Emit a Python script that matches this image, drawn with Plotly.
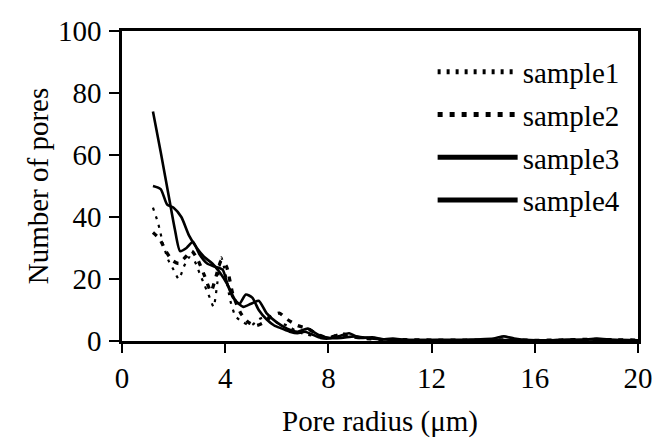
import plotly.graph_objects as go

# ---- data ----
s1_x = [1.2, 1.4, 1.6, 1.8, 2.0, 2.2, 2.4, 2.6, 2.8, 3.0, 3.2, 3.4, 3.55, 3.7, 3.85, 4.0, 4.2, 4.4, 4.7,
        5.0, 5.3, 5.6, 6.0, 6.4, 6.8, 7.2, 7.6, 8.0, 8.5, 9.0, 10, 11, 12, 13, 14, 15, 16, 17, 18, 19, 20]
s1_y = [43, 38, 31, 26, 23, 20, 24, 27, 26, 22, 18, 14, 11, 19, 27, 22, 13, 8, 6,
        5, 7, 8, 6, 5, 3, 2, 1.5, 1, 2.5, 1.5, 0.5, 0.3, 0.3, 0.2, 0.3, 0.2, 0.2, 0.2, 0.3, 0.2, 0.2]

s2_x = [1.2, 1.45, 1.7, 1.95, 2.2, 2.45, 2.7, 2.95, 3.2, 3.45, 3.65, 3.85, 4.05, 4.3, 4.6, 4.9, 5.2, 5.5,
        5.8, 6.1, 6.4, 6.8, 7.2, 7.6, 8.0, 8.4, 8.8, 9.5, 10, 11, 12, 13, 14, 15, 16, 17, 18, 19, 20]
s2_y = [35, 33, 29, 26, 25, 27, 29, 26, 21, 16, 21, 26, 24, 15, 9, 6, 5, 6,
        8, 9, 7, 5, 4, 2, 1, 2, 1.5, 0.8, 0.5, 0.4, 0.3, 0.3, 0.3, 0.4, 0.2, 0.3, 0.5, 0.4, 0.3]

s3_x = [1.2, 1.5, 1.85, 2.05, 2.25, 2.5, 2.75, 3.0, 3.3, 3.6, 3.9, 4.1, 4.3, 4.55, 4.8, 5.05, 5.3, 5.6,
        5.9, 6.2, 6.5, 6.8, 7.1, 7.4, 7.7, 8.0, 8.4, 8.8, 9.2, 9.7, 10.2, 10.8, 11.5, 12.2, 13, 13.8,
        14.4, 14.8, 15.2, 15.8, 16.5, 17.2, 17.8, 18.4, 19, 19.5, 20]
s3_y = [74, 61, 45, 36, 29, 30, 32, 28, 25, 24, 23, 18, 14, 12, 15, 14, 10, 7,
        5, 4, 3, 2.5, 3, 2, 1, 0.8, 1.5, 2.5, 1, 1.2, 0.5, 0.4, 0.3, 0.3, 0.2, 0.5,
        0.8, 1.5, 0.8, 0.3, 0.2, 0.4, 0.3, 0.8, 0.4, 0.3, 0.2]

s4_x = [1.2, 1.5, 1.75, 2.0, 2.3, 2.6, 2.9, 3.2, 3.5, 3.8, 4.1, 4.4, 4.7, 5.0, 5.3, 5.6, 6.0, 6.4, 6.8,
        7.2, 7.6, 8.0, 8.5, 9.0, 9.5, 10, 10.5, 11, 12, 13, 14, 15, 16, 17, 18, 19, 20]
s4_y = [50, 49, 44, 43, 40, 34, 30, 27, 25, 22, 18, 13, 11, 12, 13, 9, 6, 4, 3,
        4, 2, 1, 1, 1.5, 1, 0.5, 0.8, 0.4, 0.3, 0.4, 0.3, 0.3, 0.2, 0.3, 0.5, 0.3, 0.2]

names = ["sample1", "sample2", "sample3", "sample4"]
xs = [s1_x, s2_x, s3_x, s4_x]
ys = [s1_y, s2_y, s3_y, s4_y]
dashes = ["3px,6px", "5px,7px", "solid", "solid"]
widths = [2.2, 3.3, 2.6, 2.6]

x_ticks = [0, 4, 8, 12, 16, 20]
y_ticks = [0, 20, 40, 60, 80, 100]

FONT = "Liberation Serif"
FS = 29

fig = go.Figure()
for n, x, y, d, w in zip(names, xs, ys, dashes, widths):
    fig.add_trace(go.Scatter(x=x, y=y, mode="lines", name=n, legendgroup=n,
                             line=dict(color="black", dash=d, width=w, shape="spline", smoothing=0.6)))

fig.update_layout(
    width=655, height=438,
    margin=dict(l=122, r=17, t=31, b=97, autoexpand=False),
    paper_bgcolor="white", plot_bgcolor="white",
    font=dict(family=FONT, size=FS, color="black"),
    showlegend=True,
    legend=dict(x=0.602, y=0.95, xanchor="left", yanchor="top", bgcolor="rgba(0,0,0,0)",
                font=dict(family=FONT, size=FS, color="black"), tracegroupgap=2,
                itemwidth=80, itemsizing="constant"),
    xaxis=dict(range=[0, 20], tickvals=x_ticks, ticktext=[str(v) for v in x_ticks],
               tickfont=dict(family=FONT, size=FS), automargin=False,
               showline=True, linecolor="black", linewidth=2.5, mirror=True,
               ticks="outside", ticklen=9, tickwidth=2, tickcolor="black",
               showgrid=False, zeroline=False,
               title=dict(text="Pore radius (\u03bcm)", font=dict(family=FONT, size=FS), standoff=20)),
    yaxis=dict(range=[0, 100], tickvals=y_ticks, ticktext=[str(v) for v in y_ticks],
               tickfont=dict(family=FONT, size=FS), automargin=False,
               showline=True, linecolor="black", linewidth=2.5, mirror=True,
               ticks="outside", ticklen=10, tickwidth=2, tickcolor="black",
               showgrid=False, zeroline=False, ticklabelstandoff=2,
               title=dict(text="Number of pores", font=dict(family=FONT, size=FS), standoff=1)),
)

fig.write_html("out.html")
